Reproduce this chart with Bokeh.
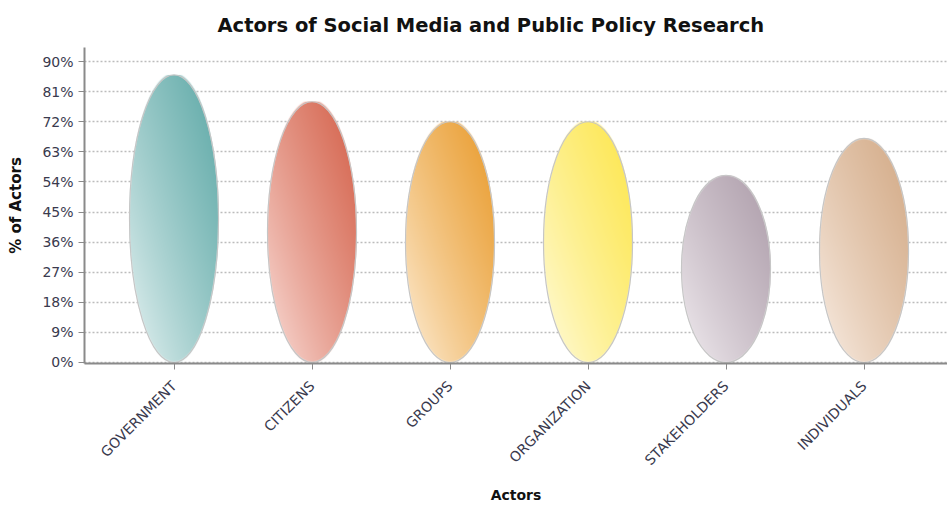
import math
import numpy as np
from bokeh.plotting import figure
from bokeh.models import FixedTicker, Range1d, PrintfTickFormatter, ColumnDataSource
from bokeh.embed import file_html
from bokeh.resources import INLINE

# Share of studies (%) naming each actor
actors = ["GOVERNMENT", "CITIZENS", "GROUPS", "ORGANIZATION", "STAKEHOLDERS", "INDIVIDUALS"]
share = [86, 78, 72, 72, 56, 67]

# Gradient end colours per actor: saturated (upper right) and pale (lower left)
dark_colors = ["#5ea9a7", "#d4614a", "#e99b2c", "#fde64b", "#ae9eab", "#d3aa86"]
light_colors = ["#f2f9f9", "#fde9e5", "#fff5e6", "#fffde8", "#f7f3f6", "#fcf3ec"]

y_ticks = [0, 9, 18, 27, 36, 45, 54, 63, 72, 81, 90]

x_pos = list(range(1, len(actors) + 1))
ELLIPSE_W = 0.645          # ellipse width in category units
PX_PER_UNIT_X = 138.0      # approx pixels per category unit
PX_PER_PCT = 3.36          # approx pixels per percent


def hex_rgb(h):
    h = h.lstrip("#")
    return np.array([int(h[i:i + 2], 16) for i in (0, 2, 4)], dtype=float)


def gradient_ellipse(value, dark, light):
    """RGBA image of a diagonally shaded ellipse filling its bounding box."""
    cols = int(round(ELLIPSE_W * PX_PER_UNIT_X))
    rows = max(int(round(value * PX_PER_PCT)), 2)
    jj, ii = np.meshgrid(np.arange(cols), np.arange(rows))
    nx = (jj + 0.5) / cols
    ny = (ii + 0.5) / rows              # row 0 is the bottom of the image
    r = np.sqrt(((nx - 0.5) / 0.5) ** 2 + ((ny - 0.5) / 0.5) ** 2)
    alpha = np.clip((1.0 - r) * cols / 2.0 + 0.5, 0.0, 1.0)
    t = np.clip(0.5 * nx + 0.5 * ny, 0, 1) ** 0.75
    d, l = hex_rgb(dark), hex_rgb(light)
    rgb = l[None, None, :] + (d - l)[None, None, :] * t[..., None]
    img = np.zeros((rows, cols, 4), dtype=np.uint8)
    img[..., :3] = np.clip(rgb, 0, 255).astype(np.uint8)
    img[..., 3] = (alpha * 255).astype(np.uint8)
    return img.view(dtype=np.uint32).reshape((rows, cols))


images = [gradient_ellipse(v, dk, lt) for v, dk, lt in zip(share, dark_colors, light_colors)]

img_src = ColumnDataSource(dict(
    image=images,
    x=[x - ELLIPSE_W / 2 for x in x_pos],
    y=[0] * len(share),
    dw=[ELLIPSE_W] * len(share),
    dh=share,
))
ell_src = ColumnDataSource(dict(
    x=x_pos,
    y=[v / 2 for v in share],
    h=share,
    w=[ELLIPSE_W] * len(share),
))

p = figure(
    width=947, height=505,
    output_backend="svg", toolbar_location=None,
    x_range=Range1d(0.3514, 6.605), y_range=Range1d(-0.3, 94.2),
    title="Actors of Social Media and Public Policy Research",
    min_border_left=84, min_border_right=0, min_border_top=47, min_border_bottom=141,
)
p.outline_line_color = None
p.background_fill_color = "white"
p.border_fill_color = "white"

p.image_rgba(image="image", x="x", y="y", dw="dw", dh="dh", source=img_src)
p.ellipse(x="x", y="y", width="w", height="h", source=ell_src,
          fill_color=None, line_color="#c6c6c6", line_width=1.2)

# Title
p.title.text_font = "DejaVu Sans"
p.title.text_font_size = "19.5px"
p.title.text_font_style = "bold"
p.title.text_color = "#111111"
p.title.align = "left"
p.title.offset = 133
p.title.vertical_align = "top"
p.title.standoff = 18

# Grid
p.xgrid.grid_line_color = None
p.ygrid.ticker = FixedTicker(ticks=y_ticks)
p.ygrid.grid_line_color = "#bcbcbc"
p.ygrid.grid_line_dash = "2 2"
p.ygrid.grid_line_width = 1.5

# Y axis
p.yaxis.ticker = FixedTicker(ticks=y_ticks)
p.yaxis.formatter = PrintfTickFormatter(format="%d%%")
p.yaxis.axis_label = "% of Actors"
p.yaxis.axis_label_text_font = "DejaVu Sans"
p.yaxis.axis_label_text_font_style = "bold"
p.yaxis.axis_label_text_font_size = "15px"
p.yaxis.axis_label_text_color = "#111111"
p.yaxis.axis_label_standoff = 14
p.yaxis.major_label_text_font = "DejaVu Sans"
p.yaxis.major_label_text_font_size = "14px"
p.yaxis.major_label_text_color = "#3a3a4e"
p.yaxis.major_label_standoff = 5
p.yaxis.minor_tick_line_color = None

# X axis
p.xaxis.ticker = FixedTicker(ticks=x_pos)
p.xaxis.major_label_overrides = {x: name for x, name in zip(x_pos, actors)}
p.xaxis.major_label_orientation = math.pi / 4
p.xaxis.axis_label = "Actors"
p.xaxis.axis_label_text_font = "DejaVu Sans"
p.xaxis.axis_label_text_font_style = "bold"
p.xaxis.axis_label_text_font_size = "14px"
p.xaxis.axis_label_text_color = "#111111"
p.xaxis.axis_label_standoff = 10
p.xaxis.major_label_text_font = "DejaVu Sans"
p.xaxis.major_label_text_font_size = "14px"
p.xaxis.major_label_text_color = "#3a3a4e"
p.xaxis.major_label_standoff = 14
p.xaxis.minor_tick_line_color = None

for ax in (p.xaxis, p.yaxis):
    ax.axis_line_color = "#8a8a8a"
    ax.axis_line_width = 2
    ax.major_tick_line_color = "#8a8a8a"
    ax.major_tick_out = 6
    ax.major_tick_in = 0

open("out.html", "w").write(file_html(p, INLINE))
